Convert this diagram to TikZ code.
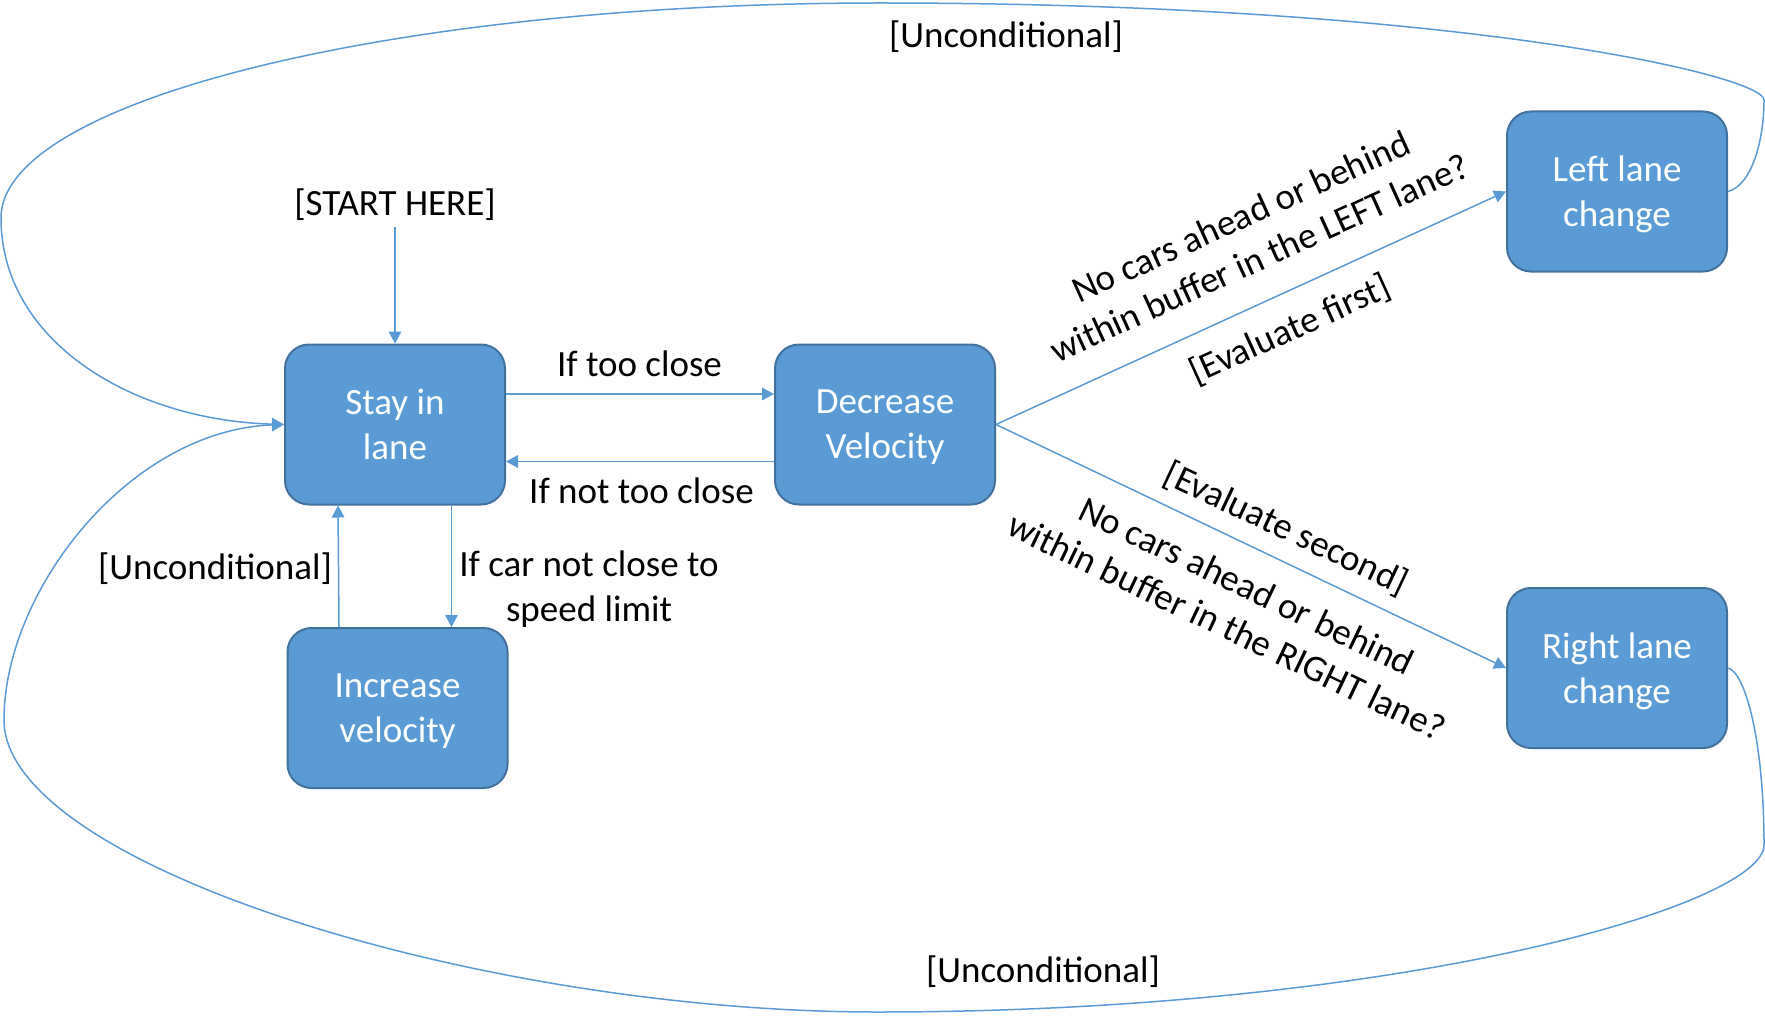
\documentclass[tikz,border=0pt]{standalone}
\usepackage{fontspec}
\setmainfont{Carlito}
\usetikzlibrary{arrows.meta}
\definecolor{boxfill}{HTML}{5B9BD5}
\definecolor{boxline}{HTML}{41719C}
\definecolor{linkblue}{HTML}{5B9BD5}
\begin{document}
\begin{tikzpicture}[x=0.5pt,y=-0.5pt,
  font=\fontsize{18.5}{22.5}\selectfont,
  state/.style={draw=boxline, line width=1pt, fill=boxfill, rounded corners=12pt,
    minimum width=110pt, minimum height=80pt, text=white, align=center, inner sep=2pt},
  lbl/.style={text=black, align=center, inner sep=0pt},
  conn/.style={draw=linkblue, line width=0.75pt, -{Triangle[length=6pt,width=6.3pt]}}]
\useasboundingbox (0,0) rectangle (1765,1016);

% states
\node[state] (stay)  at (395,424.5) {Stay in\\lane};
\node[state] (dec)   at (885,424.5) {Decrease\\\smash{Velocity}};
\node[state] (inc)   at (397.5,708) {Increase\\\smash{velocity}};
\node[state] (left)  at (1617,191.5) {Left lane\\\smash{change}};
\node[state] (right) at (1617,668) {Right lane\\\smash{change}};

% start
\node[lbl, inner sep=3pt] (start) at (395,205) {[START HERE]};
\draw[conn] (start.south) -- (stay.north);

% stay <-> decrease
\draw[conn] (stay.east |- 0,394) -- (dec.west |- 0,394);
\node[lbl, anchor=base] (ltc) at (639.5,376) {If too close};
\draw[conn] (dec.west |- 0,461.5) -- (stay.east |- 0,461.5);
\node[lbl, anchor=base] (lntc) at (641.5,503) {If not too close};

% stay <-> increase
\draw[conn] (stay.south -| 451.5,0) -- (inc.north -| 451.5,0);
\node[lbl] (lspeed) at (589,589.5) {If car not close to\\speed limit};
\draw[conn] (inc.north -| 339,0) -- (stay.south -| 338,0);
\node[lbl] (lunc1) at (215,569) {[Unconditional]};

% decrease -> left / right
\draw[conn] (dec.east) -- (left.west);
\node[lbl, rotate=24.4] (lleft) at (1250,237) {No cars ahead or behind\\within buffer in the LEFT lane?};
\node[lbl, rotate=24.4] (lfirst) at (1290,330) {[Evaluate first]};
\draw[conn] (dec.east) -- (right.west);
\node[lbl, rotate=-25.2] (lsecond) at (1286,529) {[Evaluate second]};
\node[lbl, rotate=-25.6] (lright) at (1237,606) {No cars ahead or behind\\within buffer in the RIGHT lane?};

% unconditional loops
\draw[conn] (left.east) .. controls (1752,185) and (1764,140) .. (1764,100)
  .. controls (1764,75) and (1450,3) .. (880,3)
  .. controls (396,3) and (1,100) .. (1,218)
  .. controls (1,340) and (130,420) .. (stay.west);
\node[lbl] (lunc2) at (1006,37) {[Unconditional]};

\draw[conn] (right.east) .. controls (1745,672) and (1764,740) .. (1764,845)
  .. controls (1764,905) and (1400,1012) .. (877,1012)
  .. controls (480,1012) and (4,865) .. (4,720)
  .. controls (4,590) and (130,430) .. (stay.west);
\node[lbl] (lunc3) at (1043,972) {[Unconditional]};
\end{tikzpicture}
\end{document}
